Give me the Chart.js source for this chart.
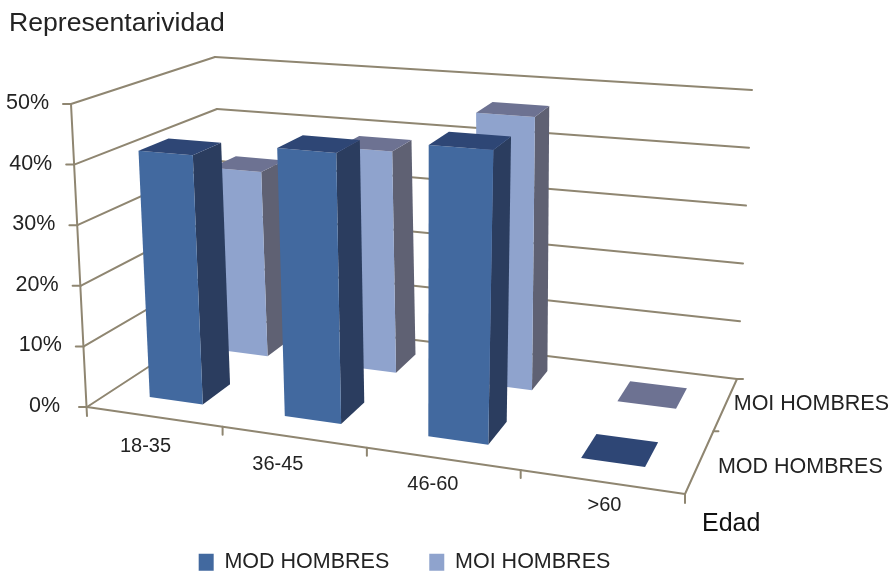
<!DOCTYPE html>
<html>
<head>
<meta charset="utf-8">
<title>Representatividad por edad</title>
<script src="https://cdn.jsdelivr.net/npm/chart.js@4"></script>
<style>
  html, body { margin: 0; padding: 0; background: #fff; }
  #wrap { width: 892px; height: 571px; }
</style>
</head>
<body>
<div id="wrap"><canvas id="chart"></canvas></div>
<script>
const categories = ['18-35', '36-45', '46-60', '>60'];
const seriesNames = ['MOD HOMBRES', 'MOI HOMBRES'];
const modHombres = [41.3, 43.7, 46.2, 0];
const moiHombres = [33, 38.6, 46.4, 0];

const FONT = '"Liberation Sans", Arial, sans-serif';
const INK = '#232323';
const GRID = '#8f8671';

// corners of the 3D box on screen: front-left, front-right, back-right, back-left
const floorQuad = [[87, 407], [685, 494], [737, 379], [225, 317]];
const ceilQuad = [[71, 104], [716, 155], [752, 90], [215, 57]];

// unit square -> quad
function makeHomography(q) {
    const [p0, p1, p2, p3] = q;
    const dx1 = p1[0] - p2[0], dx2 = p3[0] - p2[0], sx = p0[0] - p1[0] + p2[0] - p3[0];
    const dy1 = p1[1] - p2[1], dy2 = p3[1] - p2[1], sy = p0[1] - p1[1] + p2[1] - p3[1];
    const den = dx1 * dy2 - dx2 * dy1;
    const g = (sx * dy2 - dx2 * sy) / den;
    const h = (dx1 * sy - sx * dy1) / den;
    const a = p1[0] - p0[0] + g * p1[0], b = p3[0] - p0[0] + h * p3[0];
    const d = p1[1] - p0[1] + g * p1[1], e = p3[1] - p0[1] + h * p3[1];
    return (u, v) => {
        const w = g * u + h * v + 1;
        return [(a * u + b * v + p0[0]) / w, (d * u + e * v + p0[1]) / w];
    };
}
const floorAt = makeHomography(floorQuad);
const ceilAt = makeHomography(ceilQuad);

// u: along categories 0..1, d: depth 0..1, t: height 0..1
function project(u, d, t) {
    const f = floorAt(u, d), c = ceilAt(u, d);
    return [f[0] + (c[0] - f[0]) * t, f[1] + (c[1] - f[1]) * t];
}

function poly(ctx, pts, fill) {
    ctx.beginPath();
    pts.forEach((p, i) => i ? ctx.lineTo(p[0], p[1]) : ctx.moveTo(p[0], p[1]));
    ctx.closePath();
    ctx.fillStyle = fill;
    ctx.fill();
}

function seg(ctx, a, b, width) {
    ctx.beginPath();
    ctx.moveTo(a[0], a[1]);
    ctx.lineTo(b[0], b[1]);
    ctx.lineWidth = width || 2;
    ctx.strokeStyle = GRID;
    ctx.stroke();
}

// bar whose rectangle comes from the scales and is then put into the box
class Bar3DElement extends Chart.BarElement {
    static id = 'bar3d';
    drawBox(ctx, area, slot, ds) {
        const u0 = (this.x - this.width / 2 - area.left) / (area.right - area.left);
        const u1 = (this.x + this.width / 2 - area.left) / (area.right - area.left);
        const t = (area.bottom - this.y) / (area.bottom - area.top);
        const d0 = (slot + 0.3) / 2, d1 = (slot + 0.7) / 2;

        ctx.save();
        poly(ctx, [project(u1, d0, 0), project(u1, d1, 0), project(u1, d1, t), project(u1, d0, t)], ds.sideColor);
        poly(ctx, [project(u0, d0, 0), project(u1, d0, 0), project(u1, d0, t), project(u0, d0, t)], ds.backgroundColor);
        poly(ctx, [project(u0, d0, t), project(u1, d0, t), project(u1, d1, t), project(u0, d1, t)], ds.topColor);
        ctx.restore();
    }
}

class Bar3DController extends Chart.BarController {
    static id = 'bar3d';
    static defaults = { dataElementType: 'bar3d' };
    draw() {
        const ds = this.getDataset();
        this._cachedMeta.data.forEach(bar => bar.drawBox(this.chart.ctx, this.chart.chartArea, this.index, ds));
    }
}

Chart.register(Bar3DElement, Bar3DController);

// walls, floor and the axis text
const boxPlugin = {
    id: 'box',
    beforeDatasetsDraw(chart) {
        const ctx = chart.ctx;
        const yScale = chart.scales.y;
        const xScale = chart.scales.x;
        const area = chart.chartArea;
        ctx.save();
        ctx.lineCap = 'round';
        ctx.lineJoin = 'round';

        // gridlines on the side and back walls, with y labels
        ctx.font = '21.5px ' + FONT;
        ctx.textBaseline = 'middle';
        ctx.textAlign = 'right';
        yScale.ticks.forEach(tick => {
            const t = (area.bottom - yScale.getPixelForValue(tick.value)) / (area.bottom - area.top);
            const a = project(0, 0, t), b = project(0, 1, t), c = project(1, 1, t);
            seg(ctx, a, b);
            seg(ctx, b, c);
            seg(ctx, [a[0] - 8, a[1]], a);
            ctx.fillStyle = INK;
            ctx.fillText(tick.label, a[0] - (tick.value === 0 ? 27 : 22), a[1] - 1);
        });

        // vertical axis and floor edges
        seg(ctx, project(0, 0, 1), [floorQuad[0][0], floorQuad[0][1] + 9]);
        seg(ctx, project(0, 0, 0), project(1, 0, 0));
        seg(ctx, project(1, 0, 0), project(1, 1, 0));
        seg(ctx, [floorQuad[1][0], floorQuad[1][1]], [floorQuad[1][0], floorQuad[1][1] + 9]);
        seg(ctx, project(1, 1, 0), [floorQuad[2][0] + 6, floorQuad[2][1]]);
        seg(ctx, project(1, 0.5, 0), [project(1, 0.5, 0)[0] + 5, project(1, 0.5, 0)[1]]);

        // category ticks and labels
        const labelNudge = [[17, 12], [6, 8], [8, 5], [16, 2]];
        ctx.textAlign = 'center';
        ctx.font = '20px ' + FONT;
        categories.forEach((label, i) => {
            const u = (xScale.getPixelForValue(i) - area.left) / (area.right - area.left);
            const uEnd = (i + 1) / categories.length;
            const end = project(uEnd, 0, 0);
            if (i < categories.length - 1) seg(ctx, end, [end[0], end[1] + 8]);
            const p = project(u, -0.16, 0);
            ctx.fillStyle = INK;
            ctx.fillText(label, p[0] + labelNudge[i][0], p[1] + labelNudge[i][1]);
        });

        // series labels beside the right floor edge
        ctx.textAlign = 'left';
        ctx.font = '21.5px ' + FONT;
        ctx.fillStyle = INK;
        const modAt = project(1, 0.25, 0), moiAt = project(1, 0.75, 0);
        ctx.fillText(seriesNames[0], modAt[0] + 18, modAt[1] + 6);
        ctx.fillText(seriesNames[1], moiAt[0] + 8, moiAt[1]);

        // x axis name
        ctx.font = '25px ' + FONT;
        ctx.fillStyle = '#111';
        ctx.fillText('Edad', floorQuad[1][0] + 17, floorQuad[1][1] + 30);
        ctx.restore();
    }
};

new Chart(document.getElementById('chart'), {
    type: 'bar3d',
    data: {
        labels: categories,
        datasets: [
            { label: seriesNames[0], data: modHombres, backgroundColor: '#42699f', sideColor: '#2b3d5f', topColor: '#2e4675' },
            { label: seriesNames[1], data: moiHombres, backgroundColor: '#8fa3cd', sideColor: '#5f6173', topColor: '#6d7292' }
        ]
    },
    plugins: [boxPlugin],
    options: {
        responsive: true,
        maintainAspectRatio: false,
        animation: false,
        layout: { padding: { left: 9, right: 92, top: 8, bottom: -12 } },
        datasets: { bar3d: { grouped: false, categoryPercentage: 1, barPercentage: 0.4, clip: false } },
        scales: {
            x: { display: false },
            y: {
                display: false,
                min: 0,
                max: 50,
                ticks: { stepSize: 10, callback: value => value + '%' }
            }
        },
        plugins: {
            tooltip: { enabled: false },
            title: {
                display: true,
                text: 'Representarividad',
                align: 'start',
                color: INK,
                font: { family: FONT, size: 26.6, weight: 'normal' },
                padding: { top: 0, bottom: 10 }
            },
            legend: {
                position: 'bottom',
                labels: {
                    color: INK,
                    font: { family: FONT, size: 21.5 },
                    boxWidth: 15,
                    boxHeight: 17,
                    padding: 40
                }
            }
        }
    }
});
</script>
</body>
</html>
